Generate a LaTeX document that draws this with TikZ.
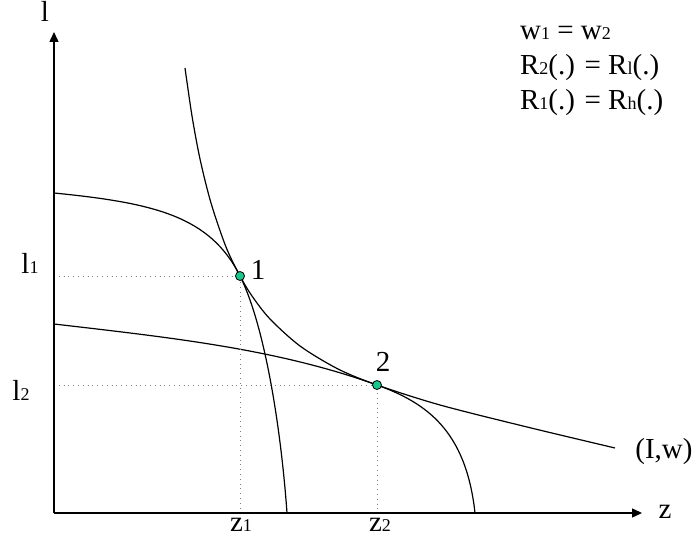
\documentclass[tikz,border=0pt]{standalone}
\usepackage{fontspec}
\setmainfont{Liberation Serif}
\usetikzlibrary{arrows.meta}
\definecolor{dotgreen}{RGB}{25,200,140}
\newcommand{\lsub}[1]{{\fontsize{9}{10}\selectfont #1}}
\tikzset{
  axis/.style={-{Triangle[length=5pt,width=4.5pt]},line width=0.7pt},
  curve/.style={line width=0.6pt},
  guide/.style={dotted,line width=0.4pt,gray},
  eqpt/.style={circle,draw,fill=dotgreen,inner sep=0pt,minimum size=4.5pt,line width=0.4pt},
  every node/.style={font=\fontsize{14.5}{17}\selectfont}
}

\begin{document}
\begin{tikzpicture}[x=0.5pt,y=0.5pt]
\useasboundingbox (0,0) rectangle (695,539);
\coordinate (O) at (54,26);
\coordinate (ytip) at (54,507);
\coordinate (xtip) at (642,26);
\coordinate (P1) at (240,263);
\coordinate (P2) at (377,154);
\coordinate (fa) at (54,346);
\coordinate (fb) at (287,26);
\coordinate (ga) at (54,215);
\coordinate (gb) at (475,26);
% frontiers
\draw[curve] (fa) .. controls (154,336) and (210,323) .. (P1)
  .. controls (265,213) and (281,110) .. (fb);
\draw[curve] (ga) .. controls (174,201) and (277,190) .. (P2)
  .. controls (427,136) and (466,108) .. (gb);
% indifference curve
\draw[curve] plot[smooth] coordinates {(185,471) (192,423) (200,380) (211,336) (226,292) (240,263) (252,243) (270,220) (300,193) (338,170) (377,154) (440,134) (527,112) (615,91)};
% guides
\draw[guide] (O |- P1) -- (P1) -- (P1 |- O);
\draw[guide] (O |- P2) -- (P2) -- (P2 |- O);
\draw[axis] (O) -- (ytip);
\draw[axis] (O) -- (xtip);
\node[eqpt] (e1) at (P1) {};
\node[eqpt] (e2) at (P2) {};
\node (lab1) at (258,269) {1};
\node (lab2) at (383,177) {2};
\node (ylab) at (45,528) {l};
\node (xlab) at (665,27) {z};
\node (l1) at (30,276) {l\lsub{1}};
\node (l2) at (21,149) {l\lsub{2}};
\node (z1) at (241,14) {z\lsub{1}};
\node (z2) at (380,14) {z\lsub{2}};
\node (iw) at (664,87) {(I,w)};
\node[anchor=base west] (eqw) at (513,499) {w\lsub{1} = w\lsub{2}};
\node[anchor=base west] (eqa) at (513,464) {R\lsub{2}(.) = R\lsub{l}(.)};
\node[anchor=base west] (eqb) at (513,429) {R\lsub{1}(.) = R\lsub{h}(.)};
\end{tikzpicture}
\end{document}
